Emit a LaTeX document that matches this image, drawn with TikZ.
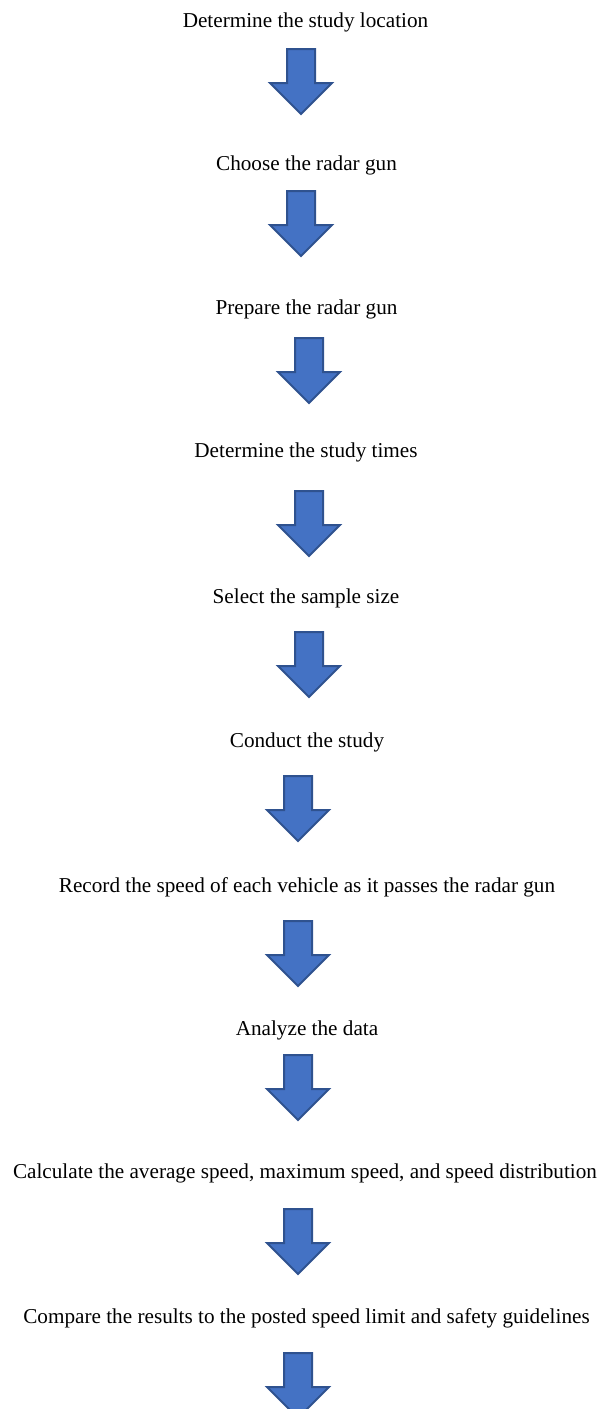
\documentclass[tikz,border=0pt]{standalone}
\usepackage{fontspec}
\setmainfont{Liberation Serif}
\usetikzlibrary{shapes.arrows}
\usetikzlibrary{positioning}

\definecolor{arrowfill}{HTML}{4472C4}
\definecolor{arrowline}{HTML}{2F528F}

\tikzset{
  stage/.style={anchor=base, inner sep=0pt, font=\fontsize{10.6}{13}\selectfont},
  downarrow/.style={single arrow, draw=arrowline, fill=arrowfill, line width=1pt,
    rotate=-90, anchor=west, minimum height=32.5pt, inner xsep=0pt, inner ysep=6.5pt,
    single arrow head extend=8.5pt, outer sep=0pt}
}

\begin{document}
\begin{tikzpicture}[x=0.5pt,y=-0.5pt]
\useasboundingbox (0,0) rectangle (601,1409);
% steps
\node[stage] (t1) at (305.5,27) {Determine the study location};
\node[stage] (t2) at (306.5,170) {Choose the radar gun};
\node[stage] (t3) at (306.5,314) {Prepare the radar gun};
\node[stage] (t4) at (306,457) {Determine the study times};
\node[stage] (t5) at (306,603) {Select the sample size};
\node[stage] (t6) at (307,747) {Conduct the study};
\node[stage] (t7) at (307,892) {Record the speed of each vehicle as it passes the radar gun};
\node[stage] (t8) at (307,1035) {Analyze the data};
\node[stage] (t9) at (305,1178) {Calculate the average speed, maximum speed, and speed distribution};
\node[stage] (t10) at (306.5,1323) {Compare the results to the posted speed limit and safety guidelines};
% arrows
\node[downarrow] (a1) at (301,49) {};
\node[downarrow] (a2) at (301,191) {};
\node[downarrow] (a3) at (309,338) {};
\node[downarrow] (a4) at (309,491) {};
\node[downarrow] (a5) at (309,632) {};
\node[downarrow] (a6) at (298,776) {};
\node[downarrow] (a7) at (298,921) {};
\node[downarrow] (a8) at (298,1055) {};
\node[downarrow] (a9) at (298,1209) {};
\node[downarrow] (a10) at (298,1353) {};
\end{tikzpicture}
\end{document}
